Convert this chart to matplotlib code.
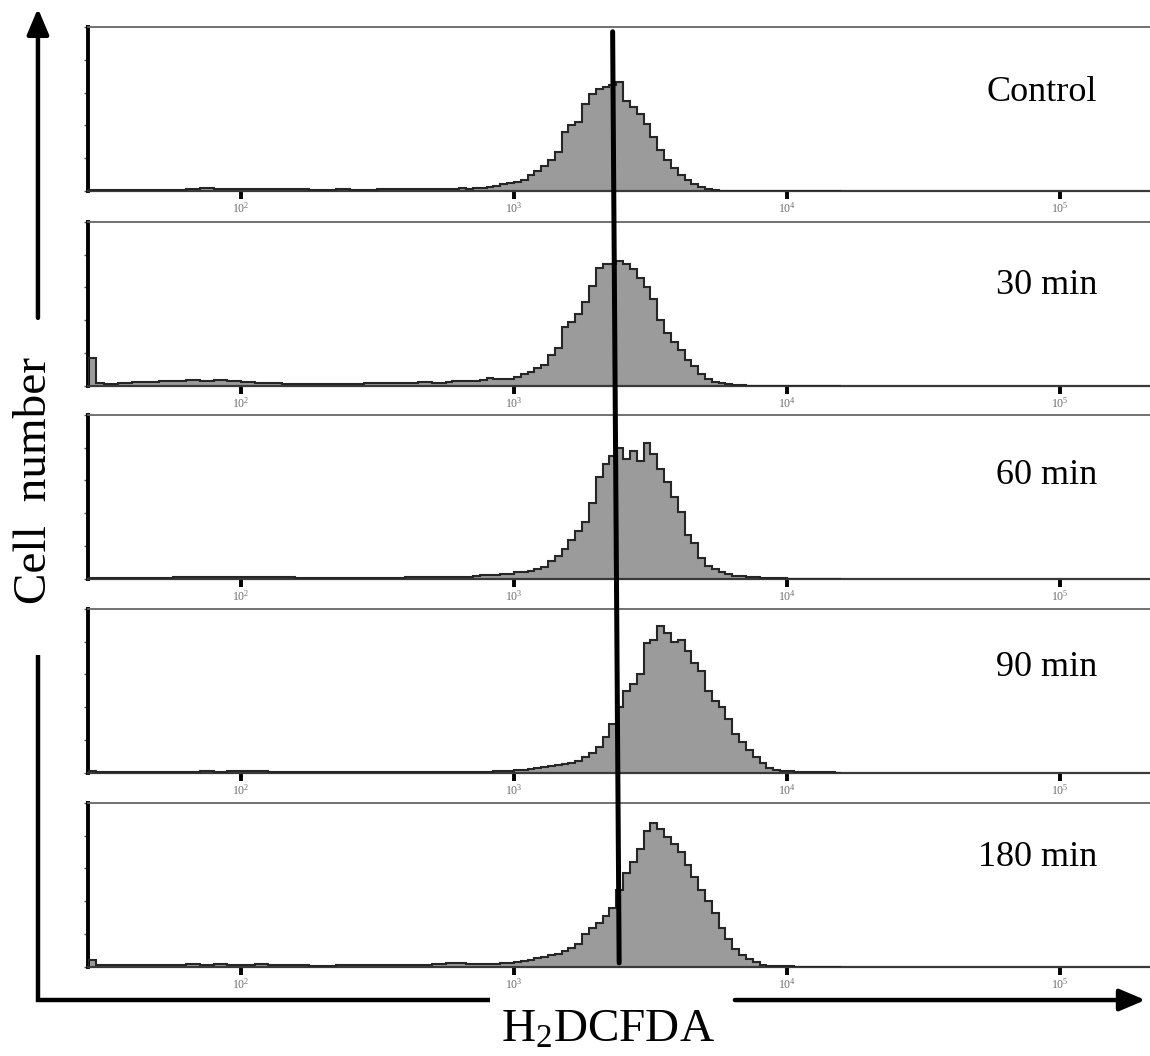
import numpy as np
import matplotlib
matplotlib.use('Agg')
import matplotlib.pyplot as plt
from matplotlib.patches import ConnectionPatch, FancyArrowPatch
from matplotlib.lines import Line2D
from matplotlib.ticker import NullLocator

plt.rcParams['font.family'] = ['Liberation Serif', 'DejaVu Serif']
plt.rcParams['mathtext.fontset'] = 'custom'
plt.rcParams['mathtext.rm'] = 'Liberation Serif'
plt.rcParams['mathtext.it'] = 'Liberation Serif:italic'

# ---------------- data ----------------
conditions = ['Control', '30 min', '60 min', '90 min', '180 min']
x_tick_values = [1e2, 1e3, 1e4, 1e5]
x_tick_labels = [r'$\mathregular{10^{2}}$', r'$\mathregular{10^{3}}$',
                 r'$\mathregular{10^{4}}$', r'$\mathregular{10^{5}}$']
y_tick_values = [0, 20, 40, 60, 80, 100]

# histogram channel edges (log10 of fluorescence intensity)
low_log_edges = np.concatenate([[1.44, 1.47], np.round(np.arange(1.50, 2.7001, 0.05), 3)])
high_log_edges = np.round(np.arange(2.725, 4.2001, 0.025), 3)

# relative cell counts (% of panel height), low-intensity channels
control_low = [0.8, 0.8, 0.7, 0.8, 0.9, 0.8, 0.9, 0.9, 1.0, 1.6, 1.0, 1.2, 1.5,
               1.0, 1.3, 1.4, 1.0, 0.9, 0.9, 1.0, 0.9, 0.9, 1.0, 1.0, 1.1, 1.2]
min30_low = [17, 2.0, 1.5, 2.0, 2.2, 2.5, 3.0, 3.2, 3.5, 3.0, 3.6, 3.0, 2.2,
             1.8, 1.6, 1.5, 1.4, 1.5, 1.4, 1.5, 1.4, 1.6, 1.7, 1.8, 2.0, 2.2]
min60_low = [0.6, 0.7, 0.7, 0.8, 0.8, 0.9, 0.8, 1.0, 1.1, 1.0, 1.3, 1.2, 1.0,
             1.4, 1.2, 1.0, 0.9, 0.9, 0.8, 0.9, 0.8, 0.9, 0.9, 0.9, 1.0, 1.0]
min90_low = [1.0, 0.7, 0.7, 0.8, 0.9, 0.8, 0.8, 0.9, 0.9, 1.0, 0.9, 1.0, 1.1,
             1.0, 0.9, 0.9, 0.8, 0.8, 0.7, 0.7, 0.7, 0.6, 0.6, 0.6, 0.6, 0.6]
min180_low = [4.5, 1.5, 1.0, 1.0, 1.1, 1.2, 1.2, 1.5, 2.0, 1.4, 1.8, 1.5, 1.3,
              1.6, 1.2, 1.0, 1.0, 0.9, 0.9, 1.0, 1.0, 1.0, 1.1, 1.2, 1.4, 1.5]

# relative cell counts (% of panel height), main channels
control_high = [1.2, 1.3, 1.3, 1.4, 1.8, 1.5, 1.7, 2.0, 2.5, 3.2,
                4.0, 4.7, 5.5, 6.7, 9.5, 12.5, 15.5, 19, 24, 36,
                40, 42, 53, 59, 62, 63.5, 64.5, 66.7, 55, 51,
                47, 41, 33, 25, 19, 14, 10, 6.5, 4.0, 2.2,
                1.2, 0.6, 0.3, 0, 0, 0, 0, 0, 0, 0,
                0, 0, 0, 0, 0, 0, 0, 0, 0, 0]
min30_high = [1.8, 2.0, 2.4, 2.8, 3.0, 3.2, 3.0, 3.4, 4.6, 4.2,
              4.0, 4.0, 5.6, 7.5, 8.7, 10.7, 12.7, 18.8, 23, 36,
              39, 44, 51, 61, 72, 74, 74.5, 76, 74, 71,
              66, 60, 53, 40, 32, 27, 22, 16, 12, 7,
              4, 2.5, 1.6, 1.0, 0.6, 0.4, 0.2, 0, 0, 0,
              0, 0, 0, 0, 0, 0, 0, 0, 0, 0]
min60_high = [1.0, 1.0, 1.1, 1.2, 1.3, 1.5, 1.8, 2.2, 2.5, 2.6,
              2.8, 3.0, 4.0, 4.5, 5.0, 6.0, 7.5, 11, 14, 18,
              24, 29, 35, 46, 62, 70, 75, 80, 73, 78,
              72, 83, 76, 67, 59, 50, 41, 27, 22, 13,
              8, 6, 4, 3, 2, 1.6, 1.2, 1.0, 0.8, 0.6,
              0.5, 0.4, 0.2, 0, 0, 0, 0, 0, 0, 0]
min90_high = [0.6, 0.6, 0.6, 0.7, 0.7, 0.7, 0.8, 0.8, 0.9, 1.0,
              1.1, 1.3, 1.6, 1.9, 2.4, 3.0, 3.5, 4.0, 4.6, 5.5,
              6.3, 7.5, 9.5, 12, 16, 22, 30, 40, 50, 54,
              60, 79, 81, 89.7, 85, 80, 81, 74, 67, 62,
              50, 44, 40, 33, 24, 19, 14, 10, 6, 3,
              1.8, 1.2, 1.0, 0.8, 0.8, 0.6, 0.6, 0.4, 0.3, 0]
min180_high = [1.6, 1.8, 2.2, 2.3, 2.2, 2.0, 1.9, 1.8, 1.8, 2.0,
               2.2, 2.5, 2.8, 3.5, 4.5, 5.3, 6.3, 7.2, 8.2, 10,
               11.4, 14, 20, 23.5, 27, 31, 36, 47, 57, 64,
               72, 83, 87.5, 84, 79, 75, 70, 62, 55, 47,
               40, 33, 24, 17, 11, 7.5, 5, 3, 1.5, 0.8,
               0.5, 0.3, 0.3, 0.2, 0.2, 0.1, 0, 0, 0, 0]

low_counts = [control_low, min30_low, min60_low, min90_low, min180_low]
high_counts = [control_high, min30_high, min60_high, min90_high, min180_high]

# reference (control mean) marker line intensity at top / bottom
marker_top_intensity = 2300
marker_bottom_intensity = 2430

# ---------------- figure ----------------
fig = plt.figure(figsize=(11.5, 10.56), dpi=100)

edges = 10 ** np.concatenate([low_log_edges, high_log_edges])
panel_bottoms = [0.8191, 0.6345, 0.4517, 0.2680, 0.0843]
label_y = [0.60, 0.61, 0.63, 0.64, 0.665]
axes = []
for i, name in enumerate(conditions):
    ax = fig.add_axes([0.0765, panel_bottoms[i], 0.9235, 0.1555])
    vals = np.array(low_counts[i] + high_counts[i], dtype=float)
    ax.stairs(vals, edges, fill=True, facecolor='#9b9b9b', edgecolor='none', zorder=2)
    ax.stairs(vals, edges, color='#262626', lw=1.5, zorder=3)
    ax.set_xscale('log')
    ax.set_xlim(10 ** 1.44, 10 ** 5.33)
    ax.set_ylim(0, 100)
    ax.xaxis.set_minor_locator(NullLocator())
    ax.set_xticks(x_tick_values)
    ax.set_xticklabels(x_tick_labels)
    ax.set_yticks(y_tick_values)
    ax.set_yticklabels([])
    ax.tick_params(axis='x', direction='out', length=6, width=2.8, color='black',
                   labelsize=8.5, labelcolor='#6e6e6e', pad=1)
    ax.tick_params(axis='y', direction='out', length=3, width=1, color='#555555')
    ax.spines['left'].set_linewidth(2.8)
    ax.spines['left'].set_color('black')
    ax.spines['top'].set_linewidth(1.3)
    ax.spines['top'].set_color('#666666')
    ax.spines['bottom'].set_linewidth(1.6)
    ax.spines['bottom'].set_color('#3a3a3a')
    ax.spines['right'].set_visible(False)
    ax.text(0.95, label_y[i], name, transform=ax.transAxes, ha='right', va='center',
            fontsize=26, color='black')
    axes.append(ax)

# vertical marker line spanning all panels
con = ConnectionPatch(xyA=(marker_top_intensity, 97), coordsA=axes[0].transData,
                      xyB=(marker_bottom_intensity, 2.5), coordsB=axes[-1].transData,
                      color='black', lw=3.6, zorder=10)
fig.add_artist(con)

# axis arrows
arrow_x = 0.033
corner_y = 0.053
fig.add_artist(Line2D([arrow_x, arrow_x, 0.426], [0.380, corner_y, corner_y],
                      transform=fig.transFigure, color='black', lw=3.2,
                      solid_joinstyle='miter', solid_capstyle='butt'))
fig.add_artist(FancyArrowPatch((arrow_x, 0.699), (arrow_x, 0.992), transform=fig.transFigure,
                               arrowstyle='-|>,head_length=1.3,head_width=0.55',
                               mutation_scale=12, lw=3.2, color='black',
                               shrinkA=0, shrinkB=0))
fig.add_artist(FancyArrowPatch((0.639, corner_y), (0.996, corner_y), transform=fig.transFigure,
                               arrowstyle='-|>,head_length=1.3,head_width=0.55',
                               mutation_scale=12, lw=3.2, color='black',
                               shrinkA=0, shrinkB=0))

fig.text(0.030, 0.545, 'Cell  number', rotation=90, ha='center', va='center',
         fontsize=34, color='black')
fig.text(0.529, 0.0135, r'H$_\mathregular{2}$DCFDA', ha='center', va='baseline',
         fontsize=34, color='black')

fig.savefig('out.png', dpi=100)
